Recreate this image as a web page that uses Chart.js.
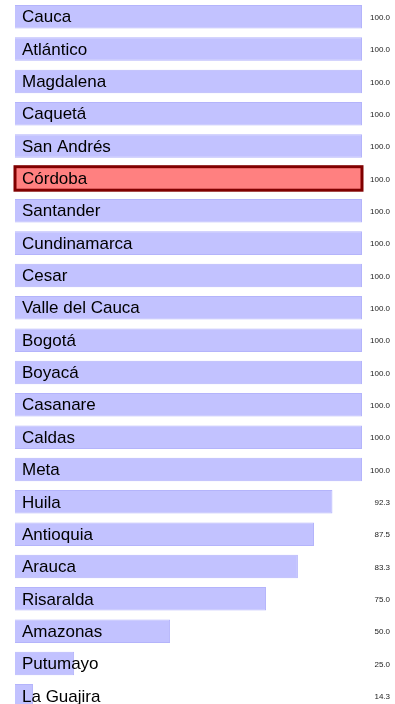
<!DOCTYPE html>
<html lang="es">
<head>
  <meta charset="UTF-8" />
  <title>Departamentos</title>
  <script src="https://cdn.jsdelivr.net/npm/chart.js"></script>
  <style>
    html, body { margin: 0; padding: 0; background: #fff; overflow: hidden; }
    canvas { display: block; }
  </style>
</head>
<body>

<canvas id="myChart" width="395" height="712"></canvas>

<script>
  const departamentos = ['Cauca', 'Atlántico', 'Magdalena', 'Caquetá', 'San Andrés', 'Córdoba',
    'Santander', 'Cundinamarca', 'Cesar', 'Valle del Cauca', 'Bogotá', 'Boyacá', 'Casanare',
    'Caldas', 'Meta', 'Huila', 'Antioquia', 'Arauca', 'Risaralda', 'Amazonas', 'Putumayo', 'La Guajira'];
  const valores = [100.0, 100.0, 100.0, 100.0, 100.0, 100.0, 100.0, 100.0, 100.0, 100.0, 100.0,
    100.0, 100.0, 100.0, 100.0, 92.3, 87.5, 83.3, 75.0, 50.0, 25.0, 14.3];
  const destacado = 'Córdoba';

  const ctx = document.getElementById('myChart').getContext('2d');

  // names inside the bars, values at the right edge, thick outline on the highlighted bar
  const barLabels = {
    id: 'barLabels',
    afterDatasetsDraw(chart) {
      const c = chart.ctx;
      const meta = chart.getDatasetMeta(0);
      const area = chart.chartArea;
      c.save();
      meta.data.forEach((bar, i) => {
        if (departamentos[i] === destacado) {
          const left = Math.max(bar.base, area.left);
          const top = bar.y - bar.height / 2;
          c.strokeStyle = '#800000';
          c.lineWidth = 3;
          c.strokeRect(left, top, bar.x - left, bar.height);
        }
        c.fillStyle = '#000';
        c.font = '17px "Liberation Sans", Arial, sans-serif';
        c.textAlign = 'left';
        c.textBaseline = 'middle';
        c.fillText(departamentos[i], area.left + 7, bar.y + 1);
        c.fillStyle = '#222';
        c.font = '8px "Liberation Sans", Arial, sans-serif';
        c.textAlign = 'right';
        c.fillText(valores[i].toFixed(1), 390, bar.y + 1);
      });
      c.restore();
    }
  };

  new Chart(ctx, {
    type: 'bar',
    data: {
      labels: departamentos,
      datasets: [{
        data: valores,
        backgroundColor: departamentos.map(d => d === destacado ? '#ff8080' : '#c2c2ff'),
        borderColor: departamentos.map(d => d === destacado ? '#ff8080' : '#b4b4fb'),
        borderWidth: 1,
        borderSkipped: false,
        categoryPercentage: 1.0,
        barPercentage: 0.727
      }]
    },
    options: {
      indexAxis: 'y',
      responsive: false,
      animation: false,
      layout: { padding: { left: 15, right: 33, top: 0.6, bottom: 0 } },
      scales: {
        x: { display: false, min: 9.6, max: 100, grid: { display: false } },
        y: { display: false, grid: { display: false } }
      },
      plugins: {
        legend: { display: false },
        tooltip: { enabled: false }
      }
    },
    plugins: [barLabels]
  });
</script>

</body>
</html>
